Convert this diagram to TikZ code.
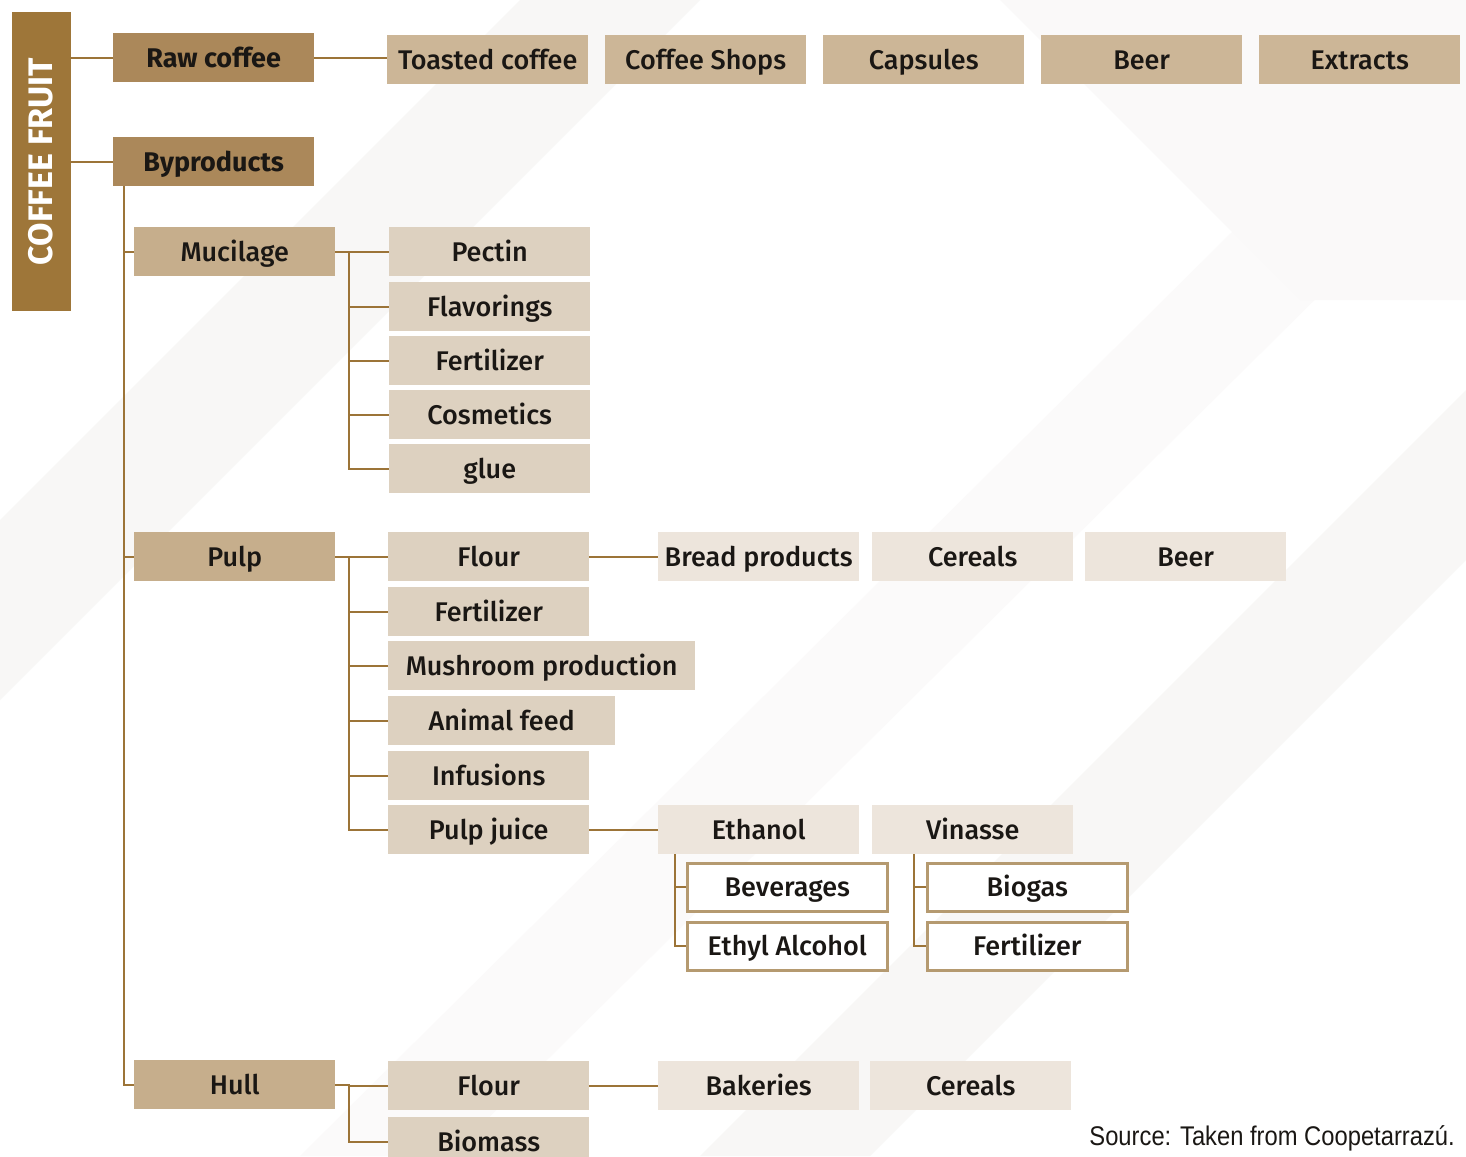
\documentclass[tikz,border=0pt]{standalone}
\usepackage{fontspec}
\setmainfont{Fira Sans}
\newfontfamily\medfont{Fira Sans}[UprightFont={* Medium}]
\newfontfamily\boldfont{Fira Sans}[UprightFont={* Bold}]
\newfontfamily\srcfont{Liberation Sans}[FakeStretch=0.88]
\definecolor{cdark}{HTML}{9E7639}
\definecolor{cline}{HTML}{9C7438}
\definecolor{craw}{HTML}{AB885A}
\definecolor{ctop}{HTML}{CCB697}
\definecolor{cmid}{HTML}{C6AE8C}
\definecolor{clight}{HTML}{DDD1C0}
\definecolor{cpale}{HTML}{EDE5DC}
\definecolor{cborder}{HTML}{B59A70}
\definecolor{ctext}{HTML}{1A1714}
\definecolor{cbg}{HTML}{F8F7F6}
\tikzset{
  box/.style={rectangle, anchor=north west, inner sep=0pt, minimum width=201pt, minimum height=49pt,
    text height=19pt, text depth=0pt,
    text=ctext, font=\medfont\fontsize{27}{32}\selectfont},
  rawbox/.style={box, fill=craw, font=\boldfont\fontsize{27}{32}\selectfont},
  topbox/.style={box, fill=ctop},
  midbox/.style={box, fill=cmid},
  lbox/.style={box, fill=clight},
  pbox/.style={box, fill=cpale},
  wbox/.style={box, fill=white, draw=cborder, line width=2.5pt, minimum width=200pt, minimum height=48pt},
  ln/.style={draw=cline, line width=2pt}
}
\begin{document}
\begin{tikzpicture}[x=1pt, y=-1pt]
\useasboundingbox (0,0) rectangle (1466,1156);
\clip (0,0) rectangle (1466,1156);
% background
\fill[white] (0,0) rectangle (1466,1156);
\fill[cbg] (0,520) -- (520,0) -- (700,0) -- (0,700) -- cycle;
\fill[cbg] (700,1156) -- (1466,390) -- (1466,560) -- (870,1156) -- cycle;
\fill[cbg!60!white] (300,1156) -- (1466,0) -- (1466,150) -- (450,1156) -- cycle;
\fill[cbg!70!white] (1000,0) -- (1466,0) -- (1466,300) -- (1300,300) -- cycle;

% root
\node[rectangle, anchor=north west, fill=cdark, minimum width=59pt, minimum height=299pt, inner sep=0pt] (cf) at (12,12) {};
\node[rotate=90, text=white, text height=24pt, text depth=0pt, font=\boldfont\fontsize{34}{38}\selectfont] (cft) at ([xshift=-1pt]cf.center) {COFFEE FRUIT};

\node[rawbox] (raw) at (113,33) {Raw coffee};
\node[rawbox] (byp) at (113,137) {Byproducts};

% top row
\node[topbox] (toast) at (387,35) {Toasted coffee};
\node[topbox] (shops) at (605,35) {Coffee Shops};
\node[topbox] (caps) at (823,35) {Capsules};
\node[topbox] (beer1) at (1041,35) {Beer};
\node[topbox] (extr) at (1259,35) {Extracts};

% second level
\node[midbox] (muc) at (134,227) {Mucilage};
\node[midbox] (pulp) at (134,532) {Pulp};
\node[midbox] (hull) at (134,1060) {Hull};

% mucilage children
\node[lbox] (pectin) at (389,227) {Pectin};
\node[lbox] (flav) at (389,282) {Flavorings};
\node[lbox] (fertA) at (389,336) {Fertilizer};
\node[lbox] (cosm) at (389,390) {Cosmetics};
\node[lbox] (glue) at (389,444) {glue};

% pulp children
\node[lbox] (flourA) at (388,532) {Flour};
\node[lbox] (fertB) at (388,587) {Fertilizer};
\node[lbox, minimum width=307pt] (mush) at (388,641) {Mushroom production};
\node[lbox, minimum width=227pt] (feed) at (388,696) {Animal feed};
\node[lbox] (inf) at (388,751) {Infusions};
\node[lbox] (juice) at (388,805) {Pulp juice};

\node[pbox] (bread) at (658,532) {Bread products};
\node[pbox] (cer1) at (872,532) {Cereals};
\node[pbox] (beer2) at (1085,532) {Beer};

\node[pbox] (eth) at (658,805) {Ethanol};
\node[pbox] (vin) at (872,805) {Vinasse};
\node[wbox] (bev) at (686,862) {Beverages};
\node[wbox] (ethyl) at (686,921) {Ethyl Alcohol};
\node[wbox] (bio) at (926,862) {Biogas};
\node[wbox] (fertC) at (926,921) {Fertilizer};

% hull children
\node[lbox] (flourB) at (388,1061) {Flour};
\node[lbox] (biom) at (388,1117) {Biomass};
\node[pbox] (bak) at (658,1061) {Bakeries};
\node[pbox] (cer2) at (870,1061) {Cereals};

% source
\node[anchor=south east, inner sep=0pt, text=ctext, font=\srcfont\fontsize{27}{30}\selectfont] (src) at (1455,1151) {Source: Taken from Coopetarrazú.};

% connectors
\draw[ln] (cf.east |- raw.west) -- (raw.west);
\draw[ln] (cf.east |- byp.west) -- (byp.west);
\draw[ln] (raw.east) -- (toast.west |- raw.east);

\coordinate (tr) at (124,186);
\draw[ln] (tr) |- (hull.west);
\draw[ln] (tr |- muc.west) -- (muc.west);
\draw[ln] (tr |- pulp.west) -- (pulp.west);

\coordinate (bus) at (349,0);
\draw[ln] (muc.east) -- (bus |- muc.east) |- (glue.west);
\foreach \n in {pectin,flav,fertA,cosm} \draw[ln] (bus |- \n.west) -- (\n.west);

\draw[ln] (pulp.east) -- (bus |- pulp.east) |- (juice.west);
\foreach \n in {flourA,fertB,mush,feed,inf} \draw[ln] (bus |- \n.west) -- (\n.west);

\draw[ln] (hull.east) -- (bus |- hull.east) |- (biom.west);
\draw[ln] (bus |- flourB.west) -- (flourB.west);

\draw[ln] (flourA.east) -- (bread.west);
\draw[ln] (juice.east) -- (eth.west);
\draw[ln] (flourB.east) -- (bak.west);

\coordinate (eb) at (675,0);
\draw[ln] (eb |- eth.south) |- (ethyl.west);
\draw[ln] (eb |- bev.west) -- (bev.west);
\coordinate (vb) at (914,0);
\draw[ln] (vb |- vin.south) |- (fertC.west);
\draw[ln] (vb |- bio.west) -- (bio.west);
\end{tikzpicture}
\end{document}
